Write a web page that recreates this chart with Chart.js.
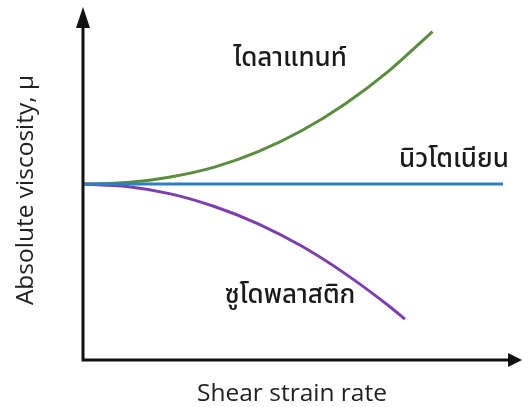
<!DOCTYPE html>
<html>
<head>
<meta charset="utf-8">
<script src="https://cdn.jsdelivr.net/npm/chart.js@4"></script>
<style>
  html, body { margin: 0; padding: 0; background: #fff; }
  #wrap { width: 522px; height: 407px; }
</style>
</head>
<body>
<div id="wrap"><canvas id="chart" width="522" height="407"></canvas></div>
<script>
// Data (x: shear strain rate, y: viscosity, arbitrary units)
const dilatantX = [0, 1, 2, 3, 4, 5, 6, 7, 7.98];
const dilatantY = [5.0, 5.04, 5.2, 5.48, 5.92, 6.52, 7.29, 8.23, 9.33];
const newtonianX = [0, 9.59];
const newtonianY = [5.0, 5.0];
const pseudoX = [0, 1, 2, 3, 4, 5, 6, 7, 7.35];
const pseudoY = [5.0, 4.93, 4.72, 4.36, 3.87, 3.23, 2.44, 1.52, 1.16];

const labels = {
  dilatant: 'ไดลาแทนท์',
  newtonian: 'นิวโตเนียน',
  pseudo: 'ซูโดพลาสติก',
  xTitle: 'Shear strain rate',
  yTitle: 'Absolute viscosity, μ'
};

const toPoints = (xs, ys) => xs.map((x, i) => ({ x: x, y: ys[i] }));

const thaiFont = '"Noto Sans Thai", "Leelawadee UI", Tahoma, "Noto Sans", sans-serif';
const latinFont = '"Open Sans", "Noto Sans", sans-serif';

// axes with arrows + text labels
const decorations = {
  id: 'decorations',
  afterDraw(chart) {
    const ctx = chart.ctx;
    const a = chart.chartArea;
    const x0 = a.left, y0 = a.bottom;
    ctx.save();
    ctx.strokeStyle = '#111';
    ctx.fillStyle = '#111';
    ctx.lineWidth = 3;
    ctx.beginPath();
    ctx.moveTo(x0, y0 + 1.5);
    ctx.lineTo(x0, a.top + 18);
    ctx.moveTo(x0 - 1.5, y0);
    ctx.lineTo(a.right - 12, y0);
    ctx.stroke();
    // y arrow
    ctx.beginPath();
    ctx.moveTo(x0, a.top - 1);
    ctx.lineTo(x0 - 7, a.top + 20);
    ctx.lineTo(x0 + 7, a.top + 20);
    ctx.closePath();
    ctx.fill();
    // x arrow
    ctx.beginPath();
    ctx.moveTo(a.right + 1, y0);
    ctx.lineTo(a.right - 13, y0 - 7);
    ctx.lineTo(a.right - 13, y0 + 7);
    ctx.closePath();
    ctx.fill();

    // curve labels
    ctx.fillStyle = '#1a1a1a';
    ctx.textAlign = 'center';
    ctx.textBaseline = 'alphabetic';
    ctx.font = '500 26px ' + thaiFont;
    ctx.fillText(labels.dilatant, 290, 66);
    ctx.fillText(labels.newtonian, 454, 167);
    ctx.fillText(labels.pseudo, 290, 303);

    // axis titles
    ctx.fillStyle = '#222';
    ctx.font = '24.5px ' + latinFont;
    ctx.fillText(labels.xTitle, 292, 401);
    ctx.translate(33, 190);
    ctx.rotate(-Math.PI / 2);
    ctx.fillText(labels.yTitle, 0, 0);
    ctx.restore();
  }
};

new Chart(document.getElementById('chart'), {
  type: 'line',
  data: {
    datasets: [
      {
        label: labels.newtonian,
        data: toPoints(newtonianX, newtonianY),
        borderColor: '#2e7fc4',
        borderWidth: 3,
        pointRadius: 0
      },
      {
        label: labels.dilatant,
        data: toPoints(dilatantX, dilatantY),
        borderColor: '#5b8d3e',
        borderWidth: 3,
        pointRadius: 0,
        cubicInterpolationMode: 'monotone'
      },
      {
        label: labels.pseudo,
        data: toPoints(pseudoX, pseudoY),
        borderColor: '#7b3fb0',
        borderWidth: 3,
        pointRadius: 0,
        cubicInterpolationMode: 'monotone'
      }
    ]
  },
  options: {
    responsive: false,
    animation: false,
    layout: { padding: { left: 83, right: 1, top: 8, bottom: 47 } },
    plugins: { legend: { display: false }, tooltip: { enabled: false } },
    scales: {
      x: { type: 'linear', min: 0, max: 10, display: false },
      y: { type: 'linear', min: 0, max: 10, display: false }
    }
  },
  plugins: [decorations]
});
</script>
</body>
</html>
